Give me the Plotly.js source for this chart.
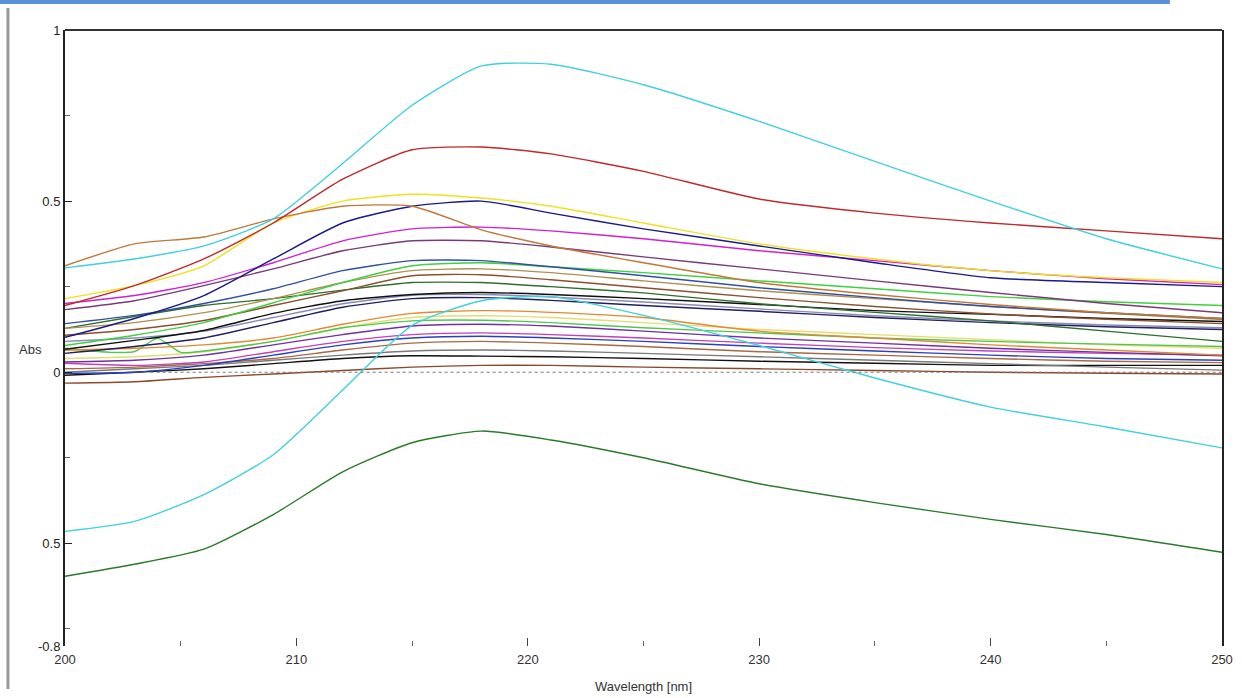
<!DOCTYPE html>
<html>
<head>
<meta charset="utf-8">
<script src="https://cdn.plot.ly/plotly-3.0.1.min.js"></script>
<style>html,body{margin:0;padding:0;background:#fff;}#chart{width:1242px;height:698px;}</style>
</head>
<body>
<div id="chart"></div>
<script>
// Wavelength grid (nm)
const wavelength = [200, 203, 206, 209, 212, 215, 218, 221, 225, 230, 235, 240, 245, 250];
const wavelengthSpike = [200, 202, 203, 204, 205, 206, 209, 212, 215, 218, 221, 225, 230, 235, 240, 245, 250];

// Absorbance spectra
const cyanTop     = [0.305, 0.331, 0.369, 0.448, 0.610, 0.780, 0.895, 0.900, 0.840, 0.733, 0.616, 0.500, 0.390, 0.302];
const redCurve    = [0.195, 0.253, 0.331, 0.436, 0.564, 0.650, 0.658, 0.638, 0.587, 0.506, 0.465, 0.436, 0.413, 0.390];
const orangeBrown = [0.311, 0.375, 0.395, 0.448, 0.485, 0.485, 0.416, 0.369, 0.320, 0.262, 0.227, 0.198, 0.174, 0.157];
const yellowCurve = [0.215, 0.253, 0.311, 0.436, 0.500, 0.520, 0.509, 0.485, 0.436, 0.375, 0.331, 0.297, 0.276, 0.262];
const navyCurve   = [0.102, 0.157, 0.224, 0.331, 0.436, 0.485, 0.500, 0.465, 0.419, 0.369, 0.320, 0.276, 0.262, 0.250];
const magentaA    = [0.201, 0.224, 0.262, 0.320, 0.384, 0.419, 0.424, 0.413, 0.390, 0.355, 0.326, 0.297, 0.273, 0.256];
const mauveCurve  = [0.183, 0.209, 0.253, 0.302, 0.355, 0.384, 0.384, 0.366, 0.337, 0.302, 0.267, 0.233, 0.201, 0.174];
const steelBlue   = [0.142, 0.166, 0.201, 0.244, 0.297, 0.326, 0.326, 0.308, 0.282, 0.247, 0.218, 0.192, 0.174, 0.157];
const greenBright = [0.078, 0.108, 0.145, 0.203, 0.262, 0.311, 0.320, 0.308, 0.291, 0.267, 0.244, 0.221, 0.206, 0.195];
const tanCurve    = [0.128, 0.145, 0.174, 0.215, 0.262, 0.297, 0.302, 0.291, 0.267, 0.238, 0.215, 0.192, 0.172, 0.154];
const brownCurve  = [0.108, 0.125, 0.151, 0.195, 0.238, 0.282, 0.285, 0.270, 0.247, 0.218, 0.192, 0.170, 0.155, 0.142];
const darkGreen   = [0.128, 0.163, 0.195, 0.215, 0.240, 0.262, 0.262, 0.250, 0.232, 0.200, 0.175, 0.150, 0.120, 0.090];
const blackCurve  = [0.067, 0.093, 0.122, 0.172, 0.209, 0.227, 0.233, 0.227, 0.215, 0.198, 0.180, 0.169, 0.157, 0.148];
const darkNavy    = [0.055, 0.075, 0.100, 0.145, 0.190, 0.215, 0.218, 0.210, 0.195, 0.178, 0.160, 0.145, 0.133, 0.125];
const lavender    = [0.090, 0.100, 0.120, 0.160, 0.200, 0.225, 0.227, 0.220, 0.205, 0.185, 0.165, 0.150, 0.138, 0.130];
const orangeCurve = [0.064, 0.070, 0.080, 0.100, 0.140, 0.172, 0.180, 0.175, 0.160, 0.120, 0.100, 0.080, 0.065, 0.050];
const lightYellow = [0.040, 0.045, 0.060, 0.090, 0.130, 0.160, 0.165, 0.160, 0.145, 0.125, 0.110, 0.095, 0.080, 0.070];
const purpleCurve = [0.030, 0.035, 0.050, 0.080, 0.110, 0.135, 0.140, 0.135, 0.120, 0.100, 0.085, 0.070, 0.058, 0.048];
const magentaB    = [0.026, 0.020, 0.030, 0.060, 0.090, 0.110, 0.115, 0.110, 0.100, 0.085, 0.072, 0.062, 0.055, 0.050];
const blueCurve   = [-0.003, 0.000, 0.020, 0.050, 0.080, 0.100, 0.105, 0.100, 0.090, 0.075, 0.062, 0.050, 0.040, 0.035];
const brownLow    = [0.010, 0.015, 0.025, 0.040, 0.065, 0.085, 0.090, 0.085, 0.075, 0.060, 0.050, 0.040, 0.032, 0.028];
const grayCurve   = [0.000, 0.010, 0.020, 0.035, 0.050, 0.062, 0.065, 0.062, 0.055, 0.045, 0.035, 0.025, 0.015, 0.006];
const blackLow    = [-0.009, 0.000, 0.010, 0.025, 0.040, 0.048, 0.047, 0.045, 0.040, 0.032, 0.026, 0.020, 0.020, 0.020];
const brownBottom = [-0.032, -0.028, -0.015, -0.005, 0.005, 0.015, 0.020, 0.020, 0.015, 0.010, 0.005, 0.000, -0.003, -0.005];
const cyanLow     = [-0.465, -0.436, -0.358, -0.241, -0.052, 0.137, 0.209, 0.221, 0.166, 0.078, -0.017, -0.102, -0.160, -0.221];
const greenBottom = [-0.596, -0.561, -0.517, -0.416, -0.291, -0.206, -0.172, -0.198, -0.250, -0.326, -0.381, -0.430, -0.474, -0.526];
const greenSpike  = [0.070, 0.058, 0.060, 0.099, 0.058, 0.062, 0.090, 0.130, 0.150, 0.152, 0.145, 0.130, 0.115, 0.100, 0.090, 0.082, 0.075];

// Axis ticks
const yTickVals = [1, 0.5, 0, -0.5, -0.8];
const yTickText = ["1", "0.5", "0", "0.5", "-0.8"];
const xTickVals = [200, 210, 220, 230, 240, 250];
const xTickText = ["200", "210", "220", "230", "240", "250"];

const series = [
  [wavelength, brownBottom, '#8a4a2a'],
  [wavelength, blackLow, '#111111'],
  [wavelength, grayCurve, '#7a7a7a'],
  [wavelength, brownLow, '#a86a40'],
  [wavelength, blueCurve, '#2a40c0'],
  [wavelength, magentaB, '#c040c0'],
  [wavelength, purpleCurve, '#7030a0'],
  [wavelength, lightYellow, '#e6dc70'],
  [wavelengthSpike, greenSpike, '#50c850'],
  [wavelength, orangeCurve, '#e08a30'],
  [wavelength, lavender, '#8a8ab8'],
  [wavelength, darkNavy, '#202060'],
  [wavelength, blackCurve, '#101010'],
  [wavelength, darkGreen, '#2e6e2e'],
  [wavelength, brownCurve, '#8a5030'],
  [wavelength, tanCurve, '#b09050'],
  [wavelength, greenBright, '#40d040'],
  [wavelength, steelBlue, '#3050a0'],
  [wavelength, mauveCurve, '#7a3a7a'],
  [wavelength, magentaA, '#d020d0'],
  [wavelength, navyCurve, '#1a1a8c'],
  [wavelength, yellowCurve, '#f0e020'],
  [wavelength, orangeBrown, '#c07838'],
  [wavelength, redCurve, '#c0282a'],
  [wavelength, cyanLow, '#40d0e0'],
  [wavelength, greenBottom, '#2a7a2a'],
  [wavelength, cyanTop, '#40d0e0']
];

const traces = series.map(s => ({
  x: s[0], y: s[1], type: 'scatter', mode: 'lines',
  line: {color: s[2], width: 1.4, shape: 'spline', smoothing: 0.6},
  hoverinfo: 'skip'
}));

const fontFam = '"Liberation Sans Narrow", "Liberation Sans", Arial, sans-serif';

const layout = {
  width: 1242, height: 698,
  margin: {l: 65, r: 20, t: 30, b: 52},
  paper_bgcolor: '#ffffff', plot_bgcolor: '#ffffff',
  showlegend: false,
  font: {family: fontFam, size: 13, color: '#333333'},
  xaxis: {
    range: [200, 250], tickmode: 'array', tickvals: xTickVals, ticktext: xTickText,
    ticks: 'inside', ticklen: 8, tickcolor: '#444', tickwidth: 1,
    ticklabelstandoff: 4,
    minor: {dtick: 5, tick0: 200, ticks: 'inside', ticklen: 5, tickcolor: '#666', showgrid: false},
    showline: false, showgrid: false, zeroline: false, fixedrange: true,
    tickfont: {family: fontFam, size: 13, color: '#333'}
  },
  yaxis: {
    range: [-0.8, 1], tickmode: 'array', tickvals: yTickVals, ticktext: yTickText,
    ticks: 'inside', ticklen: 7, tickcolor: '#222', tickwidth: 1,
    minor: {dtick: 0.5, tick0: 0.25, ticks: 'inside', ticklen: 5, tickcolor: '#666', showgrid: false},
    showline: true, linecolor: '#222', linewidth: 2, mirror: true,
    showgrid: false, zeroline: false, fixedrange: true,
    tickfont: {family: fontFam, size: 13, color: '#222'}
  },
  shapes: [
    {type: 'line', xref: 'paper', yref: 'paper', x0: 0, x1: 1, y0: 1, y1: 1, line: {color: '#333', width: 2}},
    {type: 'line', xref: 'x', yref: 'y', x0: 203.7, x1: 250, y0: 0, y1: 0, line: {color: '#777', width: 1, dash: 'dot'}},
    {type: 'line', xref: 'paper', yref: 'paper', x0: -0.0493, x1: -0.0493, y0: 1.0357, y1: -0.0697, line: {color: '#999999', width: 3}},
    {type: 'line', xref: 'paper', yref: 'paper', x0: -0.0562, x1: 0.955, y0: 1.0454, y1: 1.0454, line: {color: '#5b8fd6', width: 4}}
  ],
  annotations: [
    {text: 'Abs', xref: 'paper', yref: 'paper', x: -0.0302, y: 0.481, xanchor: 'center', yanchor: 'middle', showarrow: false, font: {family: fontFam, size: 13, color: '#333'}},
    {text: 'Wavelength [nm]', xref: 'paper', yref: 'paper', x: 0.5, y: -0.065, xanchor: 'center', yanchor: 'middle', showarrow: false, font: {family: fontFam, size: 13, color: '#333'}}
  ]
};

Plotly.newPlot('chart', traces, layout, {displayModeBar: false, staticPlot: true});
</script>
</body>
</html>
